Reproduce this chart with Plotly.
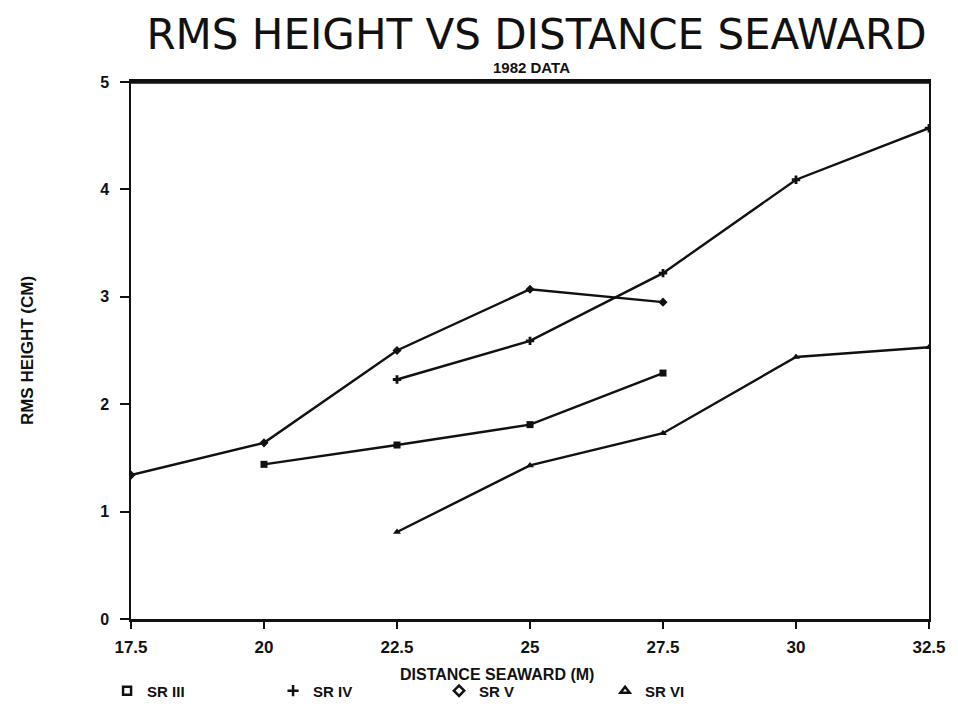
import plotly.graph_objects as go

# RMS height (cm) by distance seaward (m), 1982 data
series_names = ["SR III", "SR IV", "SR V", "SR VI"]

sr3_x = [20, 22.5, 25, 27.5]
sr3_y = [1.44, 1.62, 1.81, 2.29]

sr4_x = [22.5, 25, 27.5, 30, 32.5]
sr4_y = [2.23, 2.59, 3.22, 4.09, 4.57]

sr5_x = [17.5, 20, 22.5, 25, 27.5]
sr5_y = [1.34, 1.64, 2.50, 3.07, 2.95]

sr6_x = [22.5, 25, 27.5, 30, 32.5]
sr6_y = [0.81, 1.43, 1.73, 2.44, 2.53]

x_ticks = [17.5, 20, 22.5, 25, 27.5, 30, 32.5]
x_tick_labels = ["17.5", "20", "22.5", "25", "27.5", "30", "32.5"]
y_ticks = [0, 1, 2, 3, 4, 5]

xs = [sr3_x, sr4_x, sr5_x, sr6_x]
ys = [sr3_y, sr4_y, sr5_y, sr6_y]
plot_symbols = ["square", "cross", "diamond", "triangle-up"]
legend_symbols = ["square-open", "cross-thin-open", "diamond-open", "triangle-up-open"]

INK = "#111111"
FONT = "Liberation Sans"

fig = go.Figure()

for name, x, y, sym in zip(series_names, xs, ys, plot_symbols):
    fig.add_trace(go.Scatter(
        x=x, y=y, mode="lines+markers", name=name, showlegend=False,
        line=dict(color=INK, width=2.4),
        marker=dict(symbol=sym, size=7, color=INK),
    ))

# marker-only legend entries
for name, sym in zip(series_names, legend_symbols):
    fig.add_trace(go.Scatter(
        x=[None], y=[None], mode="markers", name=name,
        marker=dict(symbol=sym, size=8, color=INK, line=dict(color=INK, width=2.5)),
    ))

fig.update_layout(
    width=958, height=719,
    margin=dict(l=131, r=23, t=82, b=99),
    paper_bgcolor="white", plot_bgcolor="white",
    font=dict(family=FONT, color=INK, size=14),
    showlegend=True,
    legend=dict(
        orientation="h", x=-0.03, xanchor="left", y=-0.134, yanchor="middle",
        entrywidth=121, entrywidthmode="pixels",
        font=dict(family=FONT, size=15, weight="bold"),
        itemwidth=30, bgcolor="rgba(0,0,0,0)",
    ),
    xaxis=dict(
        range=[17.5, 32.5], tickvals=x_ticks, ticktext=x_tick_labels,
        showgrid=False, zeroline=False,
        showline=True, linecolor=INK, linewidth=2.5, mirror=True,
        ticks="outside", ticklen=7, tickwidth=1.5, tickcolor=INK,
        ticklabelstandoff=4,
        tickfont=dict(family=FONT, size=17, weight="bold"),
    ),
    yaxis=dict(
        range=[0, 5], tickvals=y_ticks,
        showgrid=False, zeroline=False,
        showline=True, linecolor=INK, linewidth=1.5, mirror=True,
        ticks="outside", ticklen=9, tickwidth=1.5, tickcolor=INK,
        ticklabelstandoff=8,
        tickfont=dict(family=FONT, size=16, weight="bold"),
        title=dict(text="RMS HEIGHT (CM)", standoff=62,
                   font=dict(family=FONT, size=17, weight="bold")),
    ),
    title=dict(
        text="RMS HEIGHT VS DISTANCE SEAWARD",
        x=0.56, xanchor="center", y=0.952, yanchor="middle",
        font=dict(family="DejaVu Sans", size=42, color=INK),
    ),
    annotations=[
        dict(
            text="1982 DATA", xref="paper", yref="paper", x=0.502, y=1.0,
            xanchor="center", yanchor="bottom", yshift=4, showarrow=False,
            font=dict(family=FONT, size=15, weight="bold", color=INK),
        ),
        dict(
            text="DISTANCE SEAWARD (M)", xref="paper", yref="paper",
            x=0.459, y=-0.104, xanchor="center", yanchor="middle", showarrow=False,
            font=dict(family=FONT, size=16, weight="bold", color=INK),
        ),
    ],
    shapes=[dict(
        type="line", xref="paper", yref="paper", x0=0, x1=1, y0=1, y1=1,
        line=dict(color=INK, width=3.5),
    )],
)

fig.write_html("out.html")
